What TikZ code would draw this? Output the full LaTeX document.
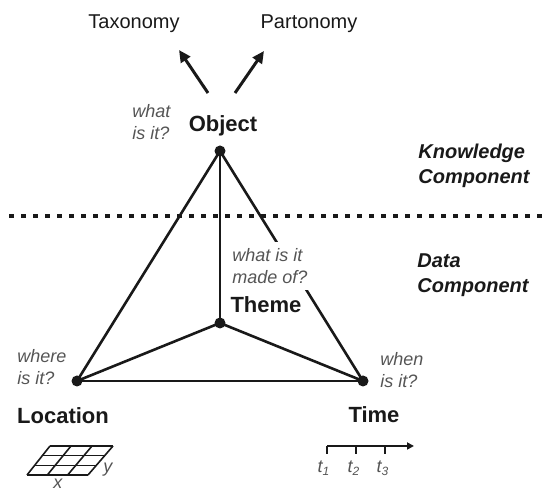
\documentclass[tikz,border=0pt]{standalone}
\usepackage{fontspec}
\setmainfont{Liberation Sans}
\usepackage{xcolor}
\usepackage{tikz}
\usetikzlibrary{arrows.meta, positioning, calc}
\definecolor{askgray}{RGB}{85,85,85}
\definecolor{inkblack}{RGB}{25,25,25}

\begin{document}
\begin{tikzpicture}[
    x=0.5pt, y=-0.5pt,
    dot/.style={circle, fill=inkblack, inner sep=0pt, minimum size=5.5pt},
    plain/.style={font=\fontsize{10}{12}\selectfont, text=inkblack, anchor=base, inner sep=0pt},
    core/.style={font=\fontsize{11}{13}\selectfont\bfseries, text=inkblack, anchor=base, inner sep=0pt},
    ask/.style={font=\fontsize{9}{11}\selectfont\itshape, text=askgray, align=left, anchor=west, inner sep=0pt},
    part/.style={font=\fontsize{10}{12.5}\selectfont\bfseries\itshape, text=inkblack, align=left, anchor=west, inner sep=0pt},
    side/.style={line width=1.3pt, draw=inkblack},
    arrow/.style={-{Triangle[length=6pt, width=5.5pt]}, line width=1.5pt, draw=inkblack},
    divider/.style={line width=1.8pt, draw=inkblack, dash pattern=on 2.5pt off 3.5pt},
    axis/.style={-{Triangle[length=3.5pt, width=3.5pt]}, line width=0.9pt, draw=inkblack},
    tick/.style={line width=0.9pt, draw=inkblack},
    gridline/.style={line width=0.8pt, draw=inkblack}
]
\useasboundingbox (0,0) rectangle (547,491);

% Corners
\node[dot] (objdot) at (220,151) {};
\node[dot] (themedot) at (220,323) {};
\node[dot] (locdot) at (77,381) {};
\node[dot] (timedot) at (363,381) {};

% Sides
\draw[side] (objdot.center) -- (locdot.center);
\draw[side] (objdot.center) -- (timedot.center);
\draw[side] (objdot.center) -- (themedot.center);
\draw[side] (themedot.center) -- (locdot.center);
\draw[side] (themedot.center) -- (timedot.center);
\draw[side] (locdot.center) -- (timedot.center);

% Divider
\coordinate (divleft) at (9,216);
\coordinate (divright) at (547,216);
\draw[divider] (divleft) -- (divright);

% Corner labels
\node[core] (objlabel) at (223,132) {Object};
\node[core] (themelabel) at (266,313) {Theme};
\node[core] (loclabel) at (63,424) {Location};
\node[core] (timelabel) at (374,423) {Time};

% Questions
\node[ask] (whatis) at (132,122.5) {what\\is it?};
\node[ask, fill=white, inner sep=3pt] (madeof) at (226,266) {what is it\\made of?};
\node[ask] (whereis) at (17,367.5) {where\\is it?};
\node[ask] (whenis) at (380,370) {when\\is it?};

% Components
\node[part] (knowledge) at (418,166) {Knowledge\\Component};
\node[part] (data) at (417,275) {Data\\Component};

% Hierarchies
\node[plain] (taxonomy) at (134,29) {Taxonomy};
\node[plain] (partonomy) at (309,29) {Partonomy};
\coordinate (taxtail) at (208,93);
\coordinate (taxtip) at (179,50);
\coordinate (parttail) at (235,93);
\coordinate (parttip) at (264,51);
\draw[arrow] (taxtail) -- (taxtip);
\draw[arrow] (parttail) -- (parttip);

% Space grid
\coordinate (gridsw) at (27,475);
\coordinate (gridse) at (88,475);
\coordinate (gridne) at (113,446);
\coordinate (gridnw) at (50,446);
\foreach \i in {0,1,2,3} {
  \draw[gridline] ($(gridsw)!\i/3!(gridse)$) -- ($(gridnw)!\i/3!(gridne)$);
  \draw[gridline] ($(gridsw)!\i/3!(gridnw)$) -- ($(gridse)!\i/3!(gridne)$);
}
\node[ask, anchor=base] (gridx) at (58,489) {x};
\node[ask, anchor=base] (gridy) at (108,473) {y};

% Time line
\coordinate (tstart) at (327,446);
\coordinate (tend) at (414,446);
\draw[axis] (tstart) -- (tend);
\coordinate (tone) at (327,446);
\coordinate (ttwo) at (356,446);
\coordinate (tthree) at (385,446);
\draw[tick] (tone) -- ++(0,8);
\draw[tick] (ttwo) -- ++(0,8);
\draw[tick] (tthree) -- ++(0,8);
\node[ask, anchor=base] (tonelabel) at (324,473) {t\textsubscript{1}};
\node[ask, anchor=base] (ttwolabel) at (354,473) {t\textsubscript{2}};
\node[ask, anchor=base] (tthreelabel) at (383,473) {t\textsubscript{3}};

\end{tikzpicture}
\end{document}
